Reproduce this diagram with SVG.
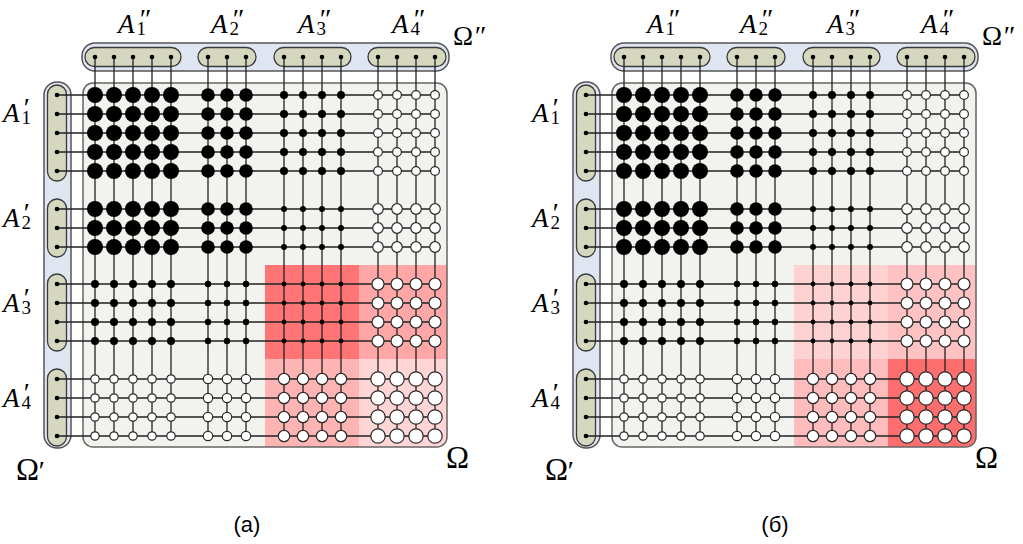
<svg xmlns="http://www.w3.org/2000/svg" xmlns:xlink="http://www.w3.org/1999/xlink" width="1023" height="544" viewBox="0 0 1023 544">
<style>
.bar{fill:#dfe6f2;stroke:#555;stroke-width:1.5}
.pill{fill:#d6d7bf;stroke:#3a3a3a;stroke-width:1.3}
.panel{fill:#f2f3ee}
.pborder{fill:none;stroke:#666;stroke-width:1.5}
.wire{fill:none;stroke:#222;stroke-width:1.3}
.k{fill:#000}
.w{fill:#fff;stroke:#2a2a2a;stroke-width:1.2}
.pin{fill:#000}
.lab{font-size:27px;fill:#000}
.it{font-style:italic}
.sub{font-size:19px;font-style:normal}
.pr{font-size:28px;font-style:italic}
.om{font-size:31px;fill:#000}
.cap{font-size:22px;fill:#000}
</style>
<defs>
<clipPath id="clipPanel"><rect x="83" y="83" width="364" height="364" rx="10"/></clipPath>
</defs>

<!-- Panel (a) frame -->
<g id="frameA">
  <g id="omega2-bar"><rect class="bar" x="82" y="43" width="367" height="28" rx="13"/></g>
  <g id="omega1-bar"><rect class="bar" x="44" y="82" width="27" height="366" rx="13"/></g>
  <g id="A1pp"><rect class="pill" x="85" y="47.5" width="96" height="19" rx="9.5"/></g>
  <g id="A2pp"><rect class="pill" x="198" y="47.5" width="58" height="19" rx="9.5"/></g>
  <g id="A3pp"><rect class="pill" x="274" y="47.5" width="77" height="19" rx="9.5"/></g>
  <g id="A4pp"><rect class="pill" x="368" y="47.5" width="78" height="19" rx="9.5"/></g>
  <g id="A1p"><rect class="pill" x="47.5" y="85" width="19" height="96" rx="9.5"/></g>
  <g id="A2p"><rect class="pill" x="47.5" y="199" width="19" height="58" rx="9.5"/></g>
  <g id="A3p"><rect class="pill" x="47.5" y="274" width="19" height="77" rx="9.5"/></g>
  <g id="A4p"><rect class="pill" x="47.5" y="369" width="19" height="77" rx="9.5"/></g>
  <g id="omega-panel"><rect class="panel" x="83" y="83" width="364" height="364" rx="10"/></g>
</g>

<g id="redA" clip-path="url(#clipPanel)">
  <rect x="265" y="265" width="94" height="94" fill="#ff7474"/>
  <rect x="359" y="265" width="90" height="94" fill="#ffa6a6"/>
  <rect x="265" y="359" width="94" height="90" fill="#ffb4b4"/>
  <rect x="359" y="359" width="90" height="90" fill="#ffd5d5"/>
</g>
<rect class="pborder" x="83" y="83" width="364" height="364" rx="10"/>

<g id="gridA">
<g id="connectors">
<path class="wire" d="M95 57V436M114 57V436M133 57V436M152 57V436M171 57V436M208 57V436M227 57V436M246 57V436M284 57V436M303 57V436M322 57V436M341 57V436M378 57V436M397 57V436M416 57V436M435 57V436M57 95H435M57 114H435M57 133H435M57 152H435M57 171H435M57 209H435M57 228H435M57 247H435M57 284H435M57 303H435M57 322H435M57 341H435M57 379H435M57 398H435M57 417H435M57 436H435"/>
</g>
<g id="pins" class="pin">
<circle cx="95" cy="57" r="2.3"/><circle cx="114" cy="57" r="2.3"/><circle cx="133" cy="57" r="2.3"/><circle cx="152" cy="57" r="2.3"/><circle cx="171" cy="57" r="2.3"/>
<circle cx="208" cy="57" r="2.3"/><circle cx="227" cy="57" r="2.3"/><circle cx="246" cy="57" r="2.3"/>
<circle cx="284" cy="57" r="2.3"/><circle cx="303" cy="57" r="2.3"/><circle cx="322" cy="57" r="2.3"/><circle cx="341" cy="57" r="2.3"/>
<circle cx="378" cy="57" r="2.3"/><circle cx="397" cy="57" r="2.3"/><circle cx="416" cy="57" r="2.3"/><circle cx="435" cy="57" r="2.3"/>
<circle cx="57" cy="95" r="2.3"/><circle cx="57" cy="114" r="2.3"/><circle cx="57" cy="133" r="2.3"/><circle cx="57" cy="152" r="2.3"/><circle cx="57" cy="171" r="2.3"/>
<circle cx="57" cy="209" r="2.3"/><circle cx="57" cy="228" r="2.3"/><circle cx="57" cy="247" r="2.3"/>
<circle cx="57" cy="284" r="2.3"/><circle cx="57" cy="303" r="2.3"/><circle cx="57" cy="322" r="2.3"/><circle cx="57" cy="341" r="2.3"/>
<circle cx="57" cy="379" r="2.3"/><circle cx="57" cy="398" r="2.3"/><circle cx="57" cy="417" r="2.3"/><circle cx="57" cy="436" r="2.3"/>
</g>
<g id="b11" class="k">
<circle cx="95" cy="95" r="8"/><circle cx="114" cy="95" r="8"/><circle cx="133" cy="95" r="8"/><circle cx="152" cy="95" r="8"/><circle cx="171" cy="95" r="8"/>
<circle cx="95" cy="114" r="8"/><circle cx="114" cy="114" r="8"/><circle cx="133" cy="114" r="8"/><circle cx="152" cy="114" r="8"/><circle cx="171" cy="114" r="8"/>
<circle cx="95" cy="133" r="8"/><circle cx="114" cy="133" r="8"/><circle cx="133" cy="133" r="8"/><circle cx="152" cy="133" r="8"/><circle cx="171" cy="133" r="8"/>
<circle cx="95" cy="152" r="8"/><circle cx="114" cy="152" r="8"/><circle cx="133" cy="152" r="8"/><circle cx="152" cy="152" r="8"/><circle cx="171" cy="152" r="8"/>
<circle cx="95" cy="171" r="8"/><circle cx="114" cy="171" r="8"/><circle cx="133" cy="171" r="8"/><circle cx="152" cy="171" r="8"/><circle cx="171" cy="171" r="8"/>
</g>
<g id="b12" class="k">
<circle cx="208" cy="95" r="6.8"/><circle cx="227" cy="95" r="6.8"/><circle cx="246" cy="95" r="6.8"/>
<circle cx="208" cy="114" r="6.8"/><circle cx="227" cy="114" r="6.8"/><circle cx="246" cy="114" r="6.8"/>
<circle cx="208" cy="133" r="6.8"/><circle cx="227" cy="133" r="6.8"/><circle cx="246" cy="133" r="6.8"/>
<circle cx="208" cy="152" r="6.8"/><circle cx="227" cy="152" r="6.8"/><circle cx="246" cy="152" r="6.8"/>
<circle cx="208" cy="171" r="6.8"/><circle cx="227" cy="171" r="6.8"/><circle cx="246" cy="171" r="6.8"/>
</g>
<g id="b13" class="k">
<circle cx="284" cy="95" r="4"/><circle cx="303" cy="95" r="4"/><circle cx="322" cy="95" r="4"/><circle cx="341" cy="95" r="4"/>
<circle cx="284" cy="114" r="4"/><circle cx="303" cy="114" r="4"/><circle cx="322" cy="114" r="4"/><circle cx="341" cy="114" r="4"/>
<circle cx="284" cy="133" r="4"/><circle cx="303" cy="133" r="4"/><circle cx="322" cy="133" r="4"/><circle cx="341" cy="133" r="4"/>
<circle cx="284" cy="152" r="4"/><circle cx="303" cy="152" r="4"/><circle cx="322" cy="152" r="4"/><circle cx="341" cy="152" r="4"/>
<circle cx="284" cy="171" r="4"/><circle cx="303" cy="171" r="4"/><circle cx="322" cy="171" r="4"/><circle cx="341" cy="171" r="4"/>
</g>
<g id="b14" class="w">
<circle cx="378" cy="95" r="4.4"/><circle cx="397" cy="95" r="4.4"/><circle cx="416" cy="95" r="4.4"/><circle cx="435" cy="95" r="4.4"/>
<circle cx="378" cy="114" r="4.4"/><circle cx="397" cy="114" r="4.4"/><circle cx="416" cy="114" r="4.4"/><circle cx="435" cy="114" r="4.4"/>
<circle cx="378" cy="133" r="4.4"/><circle cx="397" cy="133" r="4.4"/><circle cx="416" cy="133" r="4.4"/><circle cx="435" cy="133" r="4.4"/>
<circle cx="378" cy="152" r="4.4"/><circle cx="397" cy="152" r="4.4"/><circle cx="416" cy="152" r="4.4"/><circle cx="435" cy="152" r="4.4"/>
<circle cx="378" cy="171" r="4.4"/><circle cx="397" cy="171" r="4.4"/><circle cx="416" cy="171" r="4.4"/><circle cx="435" cy="171" r="4.4"/>
</g>
<g id="b21" class="k">
<circle cx="95" cy="209" r="8"/><circle cx="114" cy="209" r="8"/><circle cx="133" cy="209" r="8"/><circle cx="152" cy="209" r="8"/><circle cx="171" cy="209" r="8"/>
<circle cx="95" cy="228" r="8"/><circle cx="114" cy="228" r="8"/><circle cx="133" cy="228" r="8"/><circle cx="152" cy="228" r="8"/><circle cx="171" cy="228" r="8"/>
<circle cx="95" cy="247" r="8"/><circle cx="114" cy="247" r="8"/><circle cx="133" cy="247" r="8"/><circle cx="152" cy="247" r="8"/><circle cx="171" cy="247" r="8"/>
</g>
<g id="b22" class="k">
<circle cx="208" cy="209" r="6.8"/><circle cx="227" cy="209" r="6.8"/><circle cx="246" cy="209" r="6.8"/>
<circle cx="208" cy="228" r="6.8"/><circle cx="227" cy="228" r="6.8"/><circle cx="246" cy="228" r="6.8"/>
<circle cx="208" cy="247" r="6.8"/><circle cx="227" cy="247" r="6.8"/><circle cx="246" cy="247" r="6.8"/>
</g>
<g id="b23" class="k">
<circle cx="284" cy="209" r="3"/><circle cx="303" cy="209" r="3"/><circle cx="322" cy="209" r="3"/><circle cx="341" cy="209" r="3"/>
<circle cx="284" cy="228" r="3"/><circle cx="303" cy="228" r="3"/><circle cx="322" cy="228" r="3"/><circle cx="341" cy="228" r="3"/>
<circle cx="284" cy="247" r="3"/><circle cx="303" cy="247" r="3"/><circle cx="322" cy="247" r="3"/><circle cx="341" cy="247" r="3"/>
</g>
<g id="b24" class="w">
<circle cx="378" cy="209" r="5.3"/><circle cx="397" cy="209" r="5.3"/><circle cx="416" cy="209" r="5.3"/><circle cx="435" cy="209" r="5.3"/>
<circle cx="378" cy="228" r="5.3"/><circle cx="397" cy="228" r="5.3"/><circle cx="416" cy="228" r="5.3"/><circle cx="435" cy="228" r="5.3"/>
<circle cx="378" cy="247" r="5.3"/><circle cx="397" cy="247" r="5.3"/><circle cx="416" cy="247" r="5.3"/><circle cx="435" cy="247" r="5.3"/>
</g>
<g id="b31" class="k">
<circle cx="95" cy="284" r="4"/><circle cx="114" cy="284" r="4"/><circle cx="133" cy="284" r="4"/><circle cx="152" cy="284" r="4"/><circle cx="171" cy="284" r="4"/>
<circle cx="95" cy="303" r="4"/><circle cx="114" cy="303" r="4"/><circle cx="133" cy="303" r="4"/><circle cx="152" cy="303" r="4"/><circle cx="171" cy="303" r="4"/>
<circle cx="95" cy="322" r="4"/><circle cx="114" cy="322" r="4"/><circle cx="133" cy="322" r="4"/><circle cx="152" cy="322" r="4"/><circle cx="171" cy="322" r="4"/>
<circle cx="95" cy="341" r="4"/><circle cx="114" cy="341" r="4"/><circle cx="133" cy="341" r="4"/><circle cx="152" cy="341" r="4"/><circle cx="171" cy="341" r="4"/>
</g>
<g id="b32" class="k">
<circle cx="208" cy="284" r="3.2"/><circle cx="227" cy="284" r="3.2"/><circle cx="246" cy="284" r="3.2"/>
<circle cx="208" cy="303" r="3.2"/><circle cx="227" cy="303" r="3.2"/><circle cx="246" cy="303" r="3.2"/>
<circle cx="208" cy="322" r="3.2"/><circle cx="227" cy="322" r="3.2"/><circle cx="246" cy="322" r="3.2"/>
<circle cx="208" cy="341" r="3.2"/><circle cx="227" cy="341" r="3.2"/><circle cx="246" cy="341" r="3.2"/>
</g>
<g id="b33" class="k">
<circle cx="284" cy="284" r="2.4"/><circle cx="303" cy="284" r="2.4"/><circle cx="322" cy="284" r="2.4"/><circle cx="341" cy="284" r="2.4"/>
<circle cx="284" cy="303" r="2.4"/><circle cx="303" cy="303" r="2.4"/><circle cx="322" cy="303" r="2.4"/><circle cx="341" cy="303" r="2.4"/>
<circle cx="284" cy="322" r="2.4"/><circle cx="303" cy="322" r="2.4"/><circle cx="322" cy="322" r="2.4"/><circle cx="341" cy="322" r="2.4"/>
<circle cx="284" cy="341" r="2.4"/><circle cx="303" cy="341" r="2.4"/><circle cx="322" cy="341" r="2.4"/><circle cx="341" cy="341" r="2.4"/>
</g>
<g id="b34" class="w">
<circle cx="378" cy="284" r="6"/><circle cx="397" cy="284" r="6"/><circle cx="416" cy="284" r="6"/><circle cx="435" cy="284" r="6"/>
<circle cx="378" cy="303" r="6"/><circle cx="397" cy="303" r="6"/><circle cx="416" cy="303" r="6"/><circle cx="435" cy="303" r="6"/>
<circle cx="378" cy="322" r="6"/><circle cx="397" cy="322" r="6"/><circle cx="416" cy="322" r="6"/><circle cx="435" cy="322" r="6"/>
<circle cx="378" cy="341" r="6"/><circle cx="397" cy="341" r="6"/><circle cx="416" cy="341" r="6"/><circle cx="435" cy="341" r="6"/>
</g>
<g id="b41" class="w">
<circle cx="95" cy="379" r="4.2"/><circle cx="114" cy="379" r="4.2"/><circle cx="133" cy="379" r="4.2"/><circle cx="152" cy="379" r="4.2"/><circle cx="171" cy="379" r="4.2"/>
<circle cx="95" cy="398" r="4.2"/><circle cx="114" cy="398" r="4.2"/><circle cx="133" cy="398" r="4.2"/><circle cx="152" cy="398" r="4.2"/><circle cx="171" cy="398" r="4.2"/>
<circle cx="95" cy="417" r="4.2"/><circle cx="114" cy="417" r="4.2"/><circle cx="133" cy="417" r="4.2"/><circle cx="152" cy="417" r="4.2"/><circle cx="171" cy="417" r="4.2"/>
<circle cx="95" cy="436" r="4.2"/><circle cx="114" cy="436" r="4.2"/><circle cx="133" cy="436" r="4.2"/><circle cx="152" cy="436" r="4.2"/><circle cx="171" cy="436" r="4.2"/>
</g>
<g id="b42" class="w">
<circle cx="208" cy="379" r="4.7"/><circle cx="227" cy="379" r="4.7"/><circle cx="246" cy="379" r="4.7"/>
<circle cx="208" cy="398" r="4.7"/><circle cx="227" cy="398" r="4.7"/><circle cx="246" cy="398" r="4.7"/>
<circle cx="208" cy="417" r="4.7"/><circle cx="227" cy="417" r="4.7"/><circle cx="246" cy="417" r="4.7"/>
<circle cx="208" cy="436" r="4.7"/><circle cx="227" cy="436" r="4.7"/><circle cx="246" cy="436" r="4.7"/>
</g>
<g id="b43" class="w">
<circle cx="284" cy="379" r="5.7"/><circle cx="303" cy="379" r="5.7"/><circle cx="322" cy="379" r="5.7"/><circle cx="341" cy="379" r="5.7"/>
<circle cx="284" cy="398" r="5.7"/><circle cx="303" cy="398" r="5.7"/><circle cx="322" cy="398" r="5.7"/><circle cx="341" cy="398" r="5.7"/>
<circle cx="284" cy="417" r="5.7"/><circle cx="303" cy="417" r="5.7"/><circle cx="322" cy="417" r="5.7"/><circle cx="341" cy="417" r="5.7"/>
<circle cx="284" cy="436" r="5.7"/><circle cx="303" cy="436" r="5.7"/><circle cx="322" cy="436" r="5.7"/><circle cx="341" cy="436" r="5.7"/>
</g>
<g id="b44" class="w">
<circle cx="378" cy="379" r="7.2"/><circle cx="397" cy="379" r="7.2"/><circle cx="416" cy="379" r="7.2"/><circle cx="435" cy="379" r="7.2"/>
<circle cx="378" cy="398" r="7.2"/><circle cx="397" cy="398" r="7.2"/><circle cx="416" cy="398" r="7.2"/><circle cx="435" cy="398" r="7.2"/>
<circle cx="378" cy="417" r="7.2"/><circle cx="397" cy="417" r="7.2"/><circle cx="416" cy="417" r="7.2"/><circle cx="435" cy="417" r="7.2"/>
<circle cx="378" cy="436" r="7.2"/><circle cx="397" cy="436" r="7.2"/><circle cx="416" cy="436" r="7.2"/><circle cx="435" cy="436" r="7.2"/>
</g>
</g>

<!-- Panel (b) -->
<g id="panelB" transform="translate(529 0)">
  <use xlink:href="#frameA" href="#frameA"/>
  <g id="redB" clip-path="url(#clipPanel)">
    <rect x="265" y="265" width="94" height="94" fill="#ffd2d2"/>
    <rect x="359" y="265" width="90" height="94" fill="#ffc2c2"/>
    <rect x="265" y="359" width="94" height="90" fill="#ffbcbc"/>
    <rect x="359" y="359" width="90" height="90" fill="#ff6e6e"/>
  </g>
  <rect class="pborder" x="83" y="83" width="364" height="364" rx="10"/>
  <use xlink:href="#gridA" href="#gridA"/>
</g>

<!-- Labels panel (a) -->
<g id="labelsA" font-family="Liberation Serif, Times New Roman, serif">
<text class="lab" x="118" y="33"><tspan class="it">A</tspan><tspan class="sub" dx="2" dy="2">1</tspan><tspan class="pr" x="138" y="28">″</tspan></text>
<text class="lab" x="211" y="33"><tspan class="it">A</tspan><tspan class="sub" dx="2" dy="2">2</tspan><tspan class="pr" x="231" y="28">″</tspan></text>
<text class="lab" x="298" y="33"><tspan class="it">A</tspan><tspan class="sub" dx="2" dy="2">3</tspan><tspan class="pr" x="318" y="28">″</tspan></text>
<text class="lab" x="392" y="33"><tspan class="it">A</tspan><tspan class="sub" dx="2" dy="2">4</tspan><tspan class="pr" x="412" y="28">″</tspan></text>
<text class="om" x="453" y="45" style="font-size:27px">Ω<tspan class="pr">″</tspan></text>
<text class="lab" x="3" y="122"><tspan class="it">A</tspan><tspan class="sub" dx="2" dy="2">1</tspan><tspan class="pr" x="22" y="117">′</tspan></text>
<text class="lab" x="3" y="227"><tspan class="it">A</tspan><tspan class="sub" dx="2" dy="2">2</tspan><tspan class="pr" x="22" y="222">′</tspan></text>
<text class="lab" x="3" y="312"><tspan class="it">A</tspan><tspan class="sub" dx="2" dy="2">3</tspan><tspan class="pr" x="22" y="307">′</tspan></text>
<text class="lab" x="3" y="407"><tspan class="it">A</tspan><tspan class="sub" dx="2" dy="2">4</tspan><tspan class="pr" x="22" y="402">′</tspan></text>
<text class="om" x="16" y="480">Ω<tspan class="pr" dx="-2">′</tspan></text>
<text class="om" x="446" y="468">Ω</text>
<text class="cap" x="247" y="532" text-anchor="middle" font-family="Liberation Sans, Arial, sans-serif">(a)</text>
</g>

<!-- Labels panel (b) -->
<g id="labelsB" font-family="Liberation Serif, Times New Roman, serif">
<text class="lab" x="647" y="33"><tspan class="it">A</tspan><tspan class="sub" dx="2" dy="2">1</tspan><tspan class="pr" x="667" y="28">″</tspan></text>
<text class="lab" x="740" y="33"><tspan class="it">A</tspan><tspan class="sub" dx="2" dy="2">2</tspan><tspan class="pr" x="760" y="28">″</tspan></text>
<text class="lab" x="827" y="33"><tspan class="it">A</tspan><tspan class="sub" dx="2" dy="2">3</tspan><tspan class="pr" x="847" y="28">″</tspan></text>
<text class="lab" x="921" y="33"><tspan class="it">A</tspan><tspan class="sub" dx="2" dy="2">4</tspan><tspan class="pr" x="941" y="28">″</tspan></text>
<text class="om" x="982" y="45" style="font-size:27px">Ω<tspan class="pr">″</tspan></text>
<text class="lab" x="532" y="122"><tspan class="it">A</tspan><tspan class="sub" dx="2" dy="2">1</tspan><tspan class="pr" x="551" y="117">′</tspan></text>
<text class="lab" x="532" y="227"><tspan class="it">A</tspan><tspan class="sub" dx="2" dy="2">2</tspan><tspan class="pr" x="551" y="222">′</tspan></text>
<text class="lab" x="532" y="312"><tspan class="it">A</tspan><tspan class="sub" dx="2" dy="2">3</tspan><tspan class="pr" x="551" y="307">′</tspan></text>
<text class="lab" x="532" y="407"><tspan class="it">A</tspan><tspan class="sub" dx="2" dy="2">4</tspan><tspan class="pr" x="551" y="402">′</tspan></text>
<text class="om" x="545" y="480">Ω<tspan class="pr" dx="-2">′</tspan></text>
<text class="om" x="975" y="468">Ω</text>
<text class="cap" x="775" y="532" text-anchor="middle" font-family="Liberation Sans, Arial, sans-serif">(б)</text>
</g>
</svg>
